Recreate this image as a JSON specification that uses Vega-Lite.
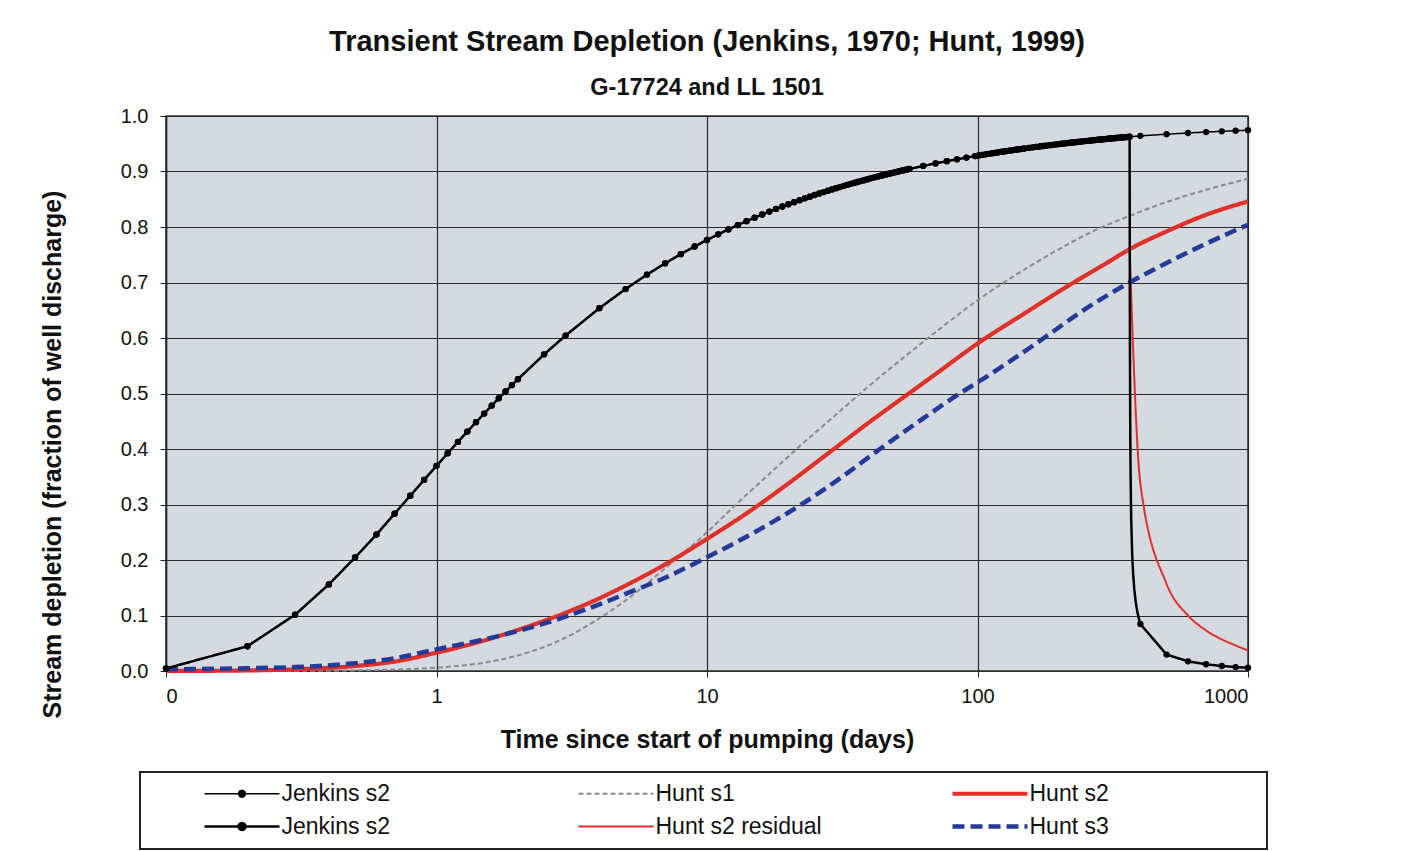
{
  "$schema": "https://vega.github.io/schema/vega-lite/v6.json",
  "width": 1082,
  "height": 555,
  "autosize": {"type": "none"},
  "padding": {"left": 166, "top": 116, "right": 160, "bottom": 180},
  "background": "#ffffff",
  "title": {
    "text": "Transient Stream Depletion (Jenkins, 1970; Hunt, 1999)",
    "subtitle": "G-17724 and LL 1501",
    "anchor": "middle",
    "font": "Liberation Sans",
    "fontSize": 29,
    "fontWeight": "bold",
    "color": "#111111",
    "subtitleFont": "Liberation Sans",
    "subtitleFontSize": 23.5,
    "subtitleFontWeight": "bold",
    "subtitleColor": "#111111",
    "subtitlePadding": 19,
    "offset": 7
  },
  "config": {
    "view": {"fill": "#d5d9e0", "stroke": "#333333", "strokeWidth": 1.5},
    "axis": {
      "labelFont": "Liberation Sans",
      "titleFont": "Liberation Sans",
      "labelColor": "#111111",
      "titleColor": "#111111",
      "titleFontWeight": "bold",
      "gridColor": "#2b2b2b",
      "gridOpacity": 1,
      "gridWidth": 1.2,
      "tickColor": "#222222",
      "domainColor": "#222222"
    }
  },
  "datasets": {
    "jen": [
      {"t":0.1,"J1":0.0045,"J2":0.0045},{"t":0.2,"J1":0.0446,"J2":0.0446},{"t":0.3,"J1":0.1014,"J2":0.1014},{"t":0.4,"J1":0.156,"J2":0.156},{"t":0.5,"J1":0.2045,"J2":0.2045},{"t":0.6,"J1":0.2459,"J2":0.2459},{"t":0.7,"J1":0.2835,"J2":0.2835},{"t":0.8,"J1":0.3158,"J2":0.3158},{"t":0.9,"J1":0.3443,"J2":0.3443},
      {"t":1,"J1":0.3696,"J2":0.3696},{"t":1.1,"J1":0.3923,"J2":0.3923},{"t":1.2,"J1":0.4128,"J2":0.4128},{"t":1.3,"J1":0.4314,"J2":0.4314},{"t":1.4,"J1":0.4483,"J2":0.4483},{"t":1.5,"J1":0.4638,"J2":0.4638},{"t":1.6,"J1":0.4782,"J2":0.4782},{"t":1.7,"J1":0.4914,"J2":0.4914},{"t":1.8,"J1":0.5036,"J2":0.5036},{"t":1.9,"J1":0.5152,"J2":0.5152},
      {"t":2,"J1":0.5258,"J2":0.5258},{"t":2.5,"J1":0.5705,"J2":0.5705},{"t":3,"J1":0.6044,"J2":0.6044},{"t":4,"J1":0.6537,"J2":0.6537},{"t":5,"J1":0.6882,"J2":0.6882},{"t":6,"J1":0.7142,"J2":0.7142},{"t":7,"J1":0.7345,"J2":0.7345},{"t":8,"J1":0.7511,"J2":0.7511},{"t":9,"J1":0.7649,"J2":0.7649},
      {"t":10,"J1":0.7766,"J2":0.7766},{"t":11,"J1":0.7868,"J2":0.7868},{"t":12,"J1":0.7957,"J2":0.7957},{"t":13,"J1":0.8035,"J2":0.8035},{"t":14,"J1":0.8105,"J2":0.8105},{"t":15,"J1":0.8168,"J2":0.8168},{"t":16,"J1":0.8225,"J2":0.8225},{"t":17,"J1":0.8278,"J2":0.8278},{"t":18,"J1":0.8325,"J2":0.8325},{"t":19,"J1":0.8369,"J2":0.8369},
      {"t":20,"J1":0.841,"J2":0.841},{"t":21,"J1":0.8448,"J2":0.8448},{"t":22,"J1":0.8483,"J2":0.8483},{"t":23,"J1":0.8516,"J2":0.8516},{"t":24,"J1":0.8547,"J2":0.8547},{"t":25,"J1":0.8576,"J2":0.8576},{"t":26,"J1":0.8603,"J2":0.8603},{"t":27,"J1":0.8629,"J2":0.8629},{"t":28,"J1":0.8654,"J2":0.8654},{"t":29,"J1":0.8677,"J2":0.8677},
      {"t":30,"J1":0.8699,"J2":0.8699},{"t":31,"J1":0.872,"J2":0.872},{"t":32,"J1":0.874,"J2":0.874},{"t":33,"J1":0.8759,"J2":0.8759},{"t":34,"J1":0.8777,"J2":0.8777},{"t":35,"J1":0.8795,"J2":0.8795},{"t":36,"J1":0.8811,"J2":0.8811},{"t":37,"J1":0.8827,"J2":0.8827},{"t":38,"J1":0.8843,"J2":0.8843},{"t":39,"J1":0.8858,"J2":0.8858},
      {"t":40,"J1":0.8872,"J2":0.8872},{"t":41,"J1":0.8886,"J2":0.8886},{"t":42,"J1":0.8899,"J2":0.8899},{"t":43,"J1":0.8912,"J2":0.8912},{"t":44,"J1":0.8924,"J2":0.8924},{"t":45,"J1":0.8936,"J2":0.8936},{"t":46,"J1":0.8948,"J2":0.8948},{"t":47,"J1":0.8959,"J2":0.8959},{"t":48,"J1":0.897,"J2":0.897},{"t":49,"J1":0.898,"J2":0.898},
      {"t":50,"J1":0.899,"J2":0.899},{"t":51,"J1":0.9,"J2":0.9},{"t":52,"J1":0.901,"J2":0.901},{"t":53,"J1":0.9019,"J2":0.9019},{"t":54,"J1":0.9028,"J2":0.9028},{"t":55,"J1":0.9037,"J2":0.9037},{"t":56,"J1":0.9046,"J2":0.9046},
      {"t":63,"J1":0.91,"J2":0.91},{"t":70,"J1":0.9146,"J2":0.9146},{"t":77,"J1":0.9186,"J2":0.9186},{"t":84,"J1":0.922,"J2":0.922},{"t":91,"J1":0.9251,"J2":0.9251},
      {"t":98,"J1":0.9278,"J2":0.9278},{"t":101,"J1":0.9289,"J2":0.9289},{"t":104,"J1":0.9299,"J2":0.9299},{"t":107,"J1":0.9309,"J2":0.9309},{"t":110,"J1":0.9318,"J2":0.9318},{"t":113,"J1":0.9327,"J2":0.9327},{"t":116,"J1":0.9336,"J2":0.9336},{"t":119,"J1":0.9344,"J2":0.9344},{"t":122,"J1":0.9353,"J2":0.9353},{"t":125,"J1":0.936,"J2":0.936},
      {"t":128,"J1":0.9368,"J2":0.9368},{"t":131,"J1":0.9375,"J2":0.9375},{"t":134,"J1":0.9382,"J2":0.9382},{"t":137,"J1":0.9389,"J2":0.9389},{"t":140,"J1":0.9396,"J2":0.9396},{"t":143,"J1":0.9402,"J2":0.9402},{"t":146,"J1":0.9408,"J2":0.9408},{"t":149,"J1":0.9414,"J2":0.9414},
      {"t":155,"J1":0.9425,"J2":0.9425},{"t":160,"J1":0.9435,"J2":0.9435},{"t":165,"J1":0.9443,"J2":0.9443},{"t":170,"J1":0.9451,"J2":0.9451},{"t":175,"J1":0.9459,"J2":0.9459},{"t":180,"J1":0.9467,"J2":0.9467},{"t":185,"J1":0.9474,"J2":0.9474},{"t":190,"J1":0.9481,"J2":0.9481},{"t":195,"J1":0.9488,"J2":0.9488},{"t":200,"J1":0.9494,"J2":0.9494},
      {"t":205,"J1":0.95,"J2":0.95},{"t":210,"J1":0.9506,"J2":0.9506},{"t":215,"J1":0.9512,"J2":0.9512},{"t":220,"J1":0.9518,"J2":0.9518},{"t":225,"J1":0.9523,"J2":0.9523},{"t":230,"J1":0.9528,"J2":0.9528},{"t":235,"J1":0.9533,"J2":0.9533},{"t":240,"J1":0.9538,"J2":0.9538},{"t":245,"J1":0.9543,"J2":0.9543},{"t":250,"J1":0.9548,"J2":0.9548},
      {"t":255,"J1":0.9552,"J2":0.9552},{"t":260,"J1":0.9556,"J2":0.9556},{"t":265,"J1":0.9561,"J2":0.9561},{"t":270,"J1":0.9565,"J2":0.9565},{"t":275,"J1":0.9569,"J2":0.9569},{"t":280,"J1":0.9572,"J2":0.9572},{"t":285,"J1":0.9576,"J2":0.9576},{"t":290,"J1":0.958,"J2":0.958},{"t":295,"J1":0.9583,"J2":0.9583},{"t":300,"J1":0.9587,"J2":0.9587},
      {"t":305,"J1":0.959,"J2":0.959},{"t":310,"J1":0.9594,"J2":0.9594},{"t":315,"J1":0.9597,"J2":0.9597},{"t":320,"J1":0.96,"J2":0.96},{"t":325,"J1":0.9603,"J2":0.9603},{"t":330,"J1":0.9606,"J2":0.9606},{"t":335,"J1":0.9609,"J2":0.9609},{"t":340,"J1":0.9612,"J2":0.9612},{"t":345,"J1":0.9615,"J2":0.9615},{"t":350,"J1":0.9618,"J2":0.9618},
      {"t":355,"J1":0.962,"J2":0.962},{"t":360,"J1":0.9623,"J2":0.9623},{"t":365,"J1":0.9626,"J2":0.9626},
      {"t":366,"J1":0.9627,"J2":0.593},{"t":367,"J1":0.9627,"J2":0.4369},{"t":368,"J1":0.9628,"J2":0.3583},{"t":370,"J1":0.9629,"J2":0.2746},{"t":373,"J1":0.963,"J2":0.2118},{"t":376,"J1":0.9631,"J2":0.1763},{"t":380,"J1":0.9633,"J2":0.1465},{"t":385,"J1":0.9635,"J2":0.1225},{"t":390,"J1":0.9638,"J2":0.1062},{"t":395,"J1":0.964,"J2":0.0941},
      {"t":400,"J1":0.9642,"J2":0.0847},{"t":500,"J1":0.9672,"J2":0.0296},{"t":600,"J1":0.9694,"J2":0.0175},{"t":700,"J1":0.9711,"J2":0.0121},{"t":800,"J1":0.9724,"J2":0.009},{"t":900,"J1":0.9735,"J2":0.0071},{"t":1000,"J1":0.9745,"J2":0.0058}
    ],
    "hunt": [
      {"s":"H1","t":0.1,"v":0},{"s":"H1","t":0.3,"v":0.0002},{"s":"H1","t":0.5,"v":0.001},{"s":"H1","t":0.7,"v":0.0025},{"s":"H1","t":1,"v":0.006},{"s":"H1","t":1.5,"v":0.015},{"s":"H1","t":2,"v":0.028},{"s":"H1","t":3,"v":0.06},{"s":"H1","t":4,"v":0.095},{"s":"H1","t":5,"v":0.127},{"s":"H1","t":7,"v":0.185},{"s":"H1","t":10,"v":0.25},{"s":"H1","t":13,"v":0.303},{"s":"H1","t":17,"v":0.355},{"s":"H1","t":22,"v":0.405},{"s":"H1","t":30,"v":0.462},{"s":"H1","t":40,"v":0.515},{"s":"H1","t":55,"v":0.57},{"s":"H1","t":75,"v":0.622},{"s":"H1","t":100,"v":0.668},{"s":"H1","t":140,"v":0.715},{"s":"H1","t":200,"v":0.76},{"s":"H1","t":280,"v":0.797},{"s":"H1","t":365,"v":0.82},{"s":"H1","t":500,"v":0.845},{"s":"H1","t":700,"v":0.867},{"s":"H1","t":1000,"v":0.887},
      {"s":"H2","t":0.1,"v":0},{"s":"H2","t":0.2,"v":0.001},{"s":"H2","t":0.3,"v":0.003},{"s":"H2","t":0.5,"v":0.009},{"s":"H2","t":0.7,"v":0.017},{"s":"H2","t":1,"v":0.033},{"s":"H2","t":1.5,"v":0.055},{"s":"H2","t":2,"v":0.074},{"s":"H2","t":3,"v":0.105},{"s":"H2","t":4,"v":0.131},{"s":"H2","t":5,"v":0.154},{"s":"H2","t":7,"v":0.192},{"s":"H2","t":10,"v":0.238},{"s":"H2","t":15,"v":0.294},{"s":"H2","t":20,"v":0.338},{"s":"H2","t":30,"v":0.403},{"s":"H2","t":40,"v":0.449},{"s":"H2","t":55,"v":0.498},{"s":"H2","t":70,"v":0.535},{"s":"H2","t":100,"v":0.59},{"s":"H2","t":150,"v":0.645},{"s":"H2","t":218,"v":0.695},{"s":"H2","t":300,"v":0.735},{"s":"H2","t":365,"v":0.76},{"s":"H2","t":500,"v":0.792},{"s":"H2","t":700,"v":0.822},{"s":"H2","t":1000,"v":0.846},
      {"s":"H2r","t":365,"v":0.76},{"s":"H2r","t":400,"v":0.338},{"s":"H2r","t":500,"v":0.157},{"s":"H2r","t":600,"v":0.1},{"s":"H2r","t":700,"v":0.073},{"s":"H2r","t":800,"v":0.057},{"s":"H2r","t":900,"v":0.046},{"s":"H2r","t":1000,"v":0.037},
      {"s":"H3","t":0.1,"v":0.003},{"s":"H3","t":0.2,"v":0.005},{"s":"H3","t":0.3,"v":0.007},{"s":"H3","t":0.5,"v":0.014},{"s":"H3","t":0.7,"v":0.023},{"s":"H3","t":1,"v":0.039},{"s":"H3","t":1.5,"v":0.057},{"s":"H3","t":2,"v":0.072},{"s":"H3","t":3,"v":0.098},{"s":"H3","t":4,"v":0.12},{"s":"H3","t":5,"v":0.139},{"s":"H3","t":7,"v":0.168},{"s":"H3","t":10,"v":0.205},{"s":"H3","t":15,"v":0.25},{"s":"H3","t":22,"v":0.298},{"s":"H3","t":30,"v":0.342},{"s":"H3","t":43,"v":0.398},{"s":"H3","t":60,"v":0.448},{"s":"H3","t":86,"v":0.5},{"s":"H3","t":100,"v":0.52},{"s":"H3","t":130,"v":0.556},{"s":"H3","t":176,"v":0.6},{"s":"H3","t":250,"v":0.652},{"s":"H3","t":365,"v":0.7},{"s":"H3","t":500,"v":0.735},{"s":"H3","t":700,"v":0.77},{"s":"H3","t":1000,"v":0.804}
    ]
  },
  "encoding": {
    "x": {
      "field": "t",
      "type": "quantitative",
      "scale": {"type": "log", "domain": [0.1, 1000], "nice": false},
      "axis": {
        "values": [0.1, 1, 10, 100, 1000],
        "labelExpr": "datum.value < 0.5 ? '0' : format(datum.value, 'd')",
        "title": "Time since start of pumping (days)",
        "labelFontSize": 20,
        "titleFontSize": 25,
        "tickSize": 6,
        "labelPadding": 9,
        "titlePadding": 21,
        "grid": true,
        "domain": false
      }
    },
    "y": {
      "field": "v",
      "type": "quantitative",
      "scale": {"domain": [0, 1], "nice": false},
      "axis": {
        "values": [0, 0.1, 0.2, 0.3, 0.4, 0.5, 0.6, 0.7, 0.8, 0.9, 1],
        "format": ".1f",
        "title": "Stream depletion (fraction of well discharge)",
        "labelFontSize": 20,
        "titleFontSize": 25,
        "tickSize": 6,
        "labelPadding": 12,
        "titleX": -114,
        "titleY": 338,
        "titleBaseline": "middle",
        "titleAlign": "center",
        "grid": true,
        "domain": true,
        "domainWidth": 1.5
      }
    }
  },
  "layer": [
    {
      "data": {"name": "hunt"},
      "mark": {"type": "line", "interpolate": "monotone", "strokeCap": "butt"},
      "encoding": {
        "color": {
          "field": "s",
          "type": "nominal",
          "scale": {"domain": ["J1", "H1", "H2", "J2", "H2r", "H3"], "range": ["#000000", "#8a8a8a", "#e0302a", "#000000", "#e0302a", "#233a96"]},
          "legend": {
            "orient": "none",
            "legendX": -26,
            "legendY": 656,
            "direction": "horizontal",
            "columns": 3,
            "gridAlign": "all",
            "columnPadding": 15,
            "rowPadding": 9,
            "padding": 10,
            "title": null,
            "symbolType": "stroke",
            "symbolSize": 100,
            "symbolOffset": 80.5,
            "labelOffset": 28,
            "labelFont": "Liberation Sans",
            "labelFontSize": 23,
            "labelColor": "#111111",
            "labelLimit": 600,
            "fillColor": "#ffffff",
            "strokeColor": "#222222",
            "labelExpr": "datum.label === 'H1' ? 'Hunt s1' : datum.label === 'H2' ? 'Hunt s2' : datum.label === 'H2r' ? 'Hunt s2 residual' : datum.label === 'H3' ? 'Hunt s3' : 'Jenkins s2'",
            "encode": {
              "legend": {"update": {"strokeWidth": {"value": 2}}},
              "symbols": {
                "update": {
                  "shape": {"signal": "(datum.value === 'J1' || datum.value === 'J2') ? 'M-7.5,0H7.5M0.68,0A0.68,0.68,0,1,1,-0.68,0A0.68,0.68,0,1,1,0.68,0Z' : datum.value === 'H3' ? 'M-7.5,0H7.5M51.5,0' : 'M-7.5,0H7.5'"},
                  "fill": {"signal": "(datum.value === 'J1' || datum.value === 'J2') ? '#000000' : 'transparent'"},
                  "strokeWidth": {"signal": "datum.value === 'J1' ? 1.5 : datum.value === 'J2' ? 2.5 : datum.value === 'H1' ? 2 : datum.value === 'H2r' ? 2 : 4.5"},
                  "strokeDash": {"signal": "datum.value === 'H1' ? [3, 2] : datum.value === 'H3' ? [11, 5] : [1, 0]"}
                }
              }
            }
          }
        },
        "strokeDash": {
          "field": "s",
          "type": "nominal",
          "scale": {"type": "ordinal", "domain": ["J1", "H1", "H2", "J2", "H2r", "H3"], "range": [[1, 0], [5, 3], [1, 0], [1, 0], [1, 0], [12, 6]]},
          "legend": null
        },
        "strokeWidth": {
          "field": "s",
          "type": "nominal",
          "scale": {"type": "ordinal", "domain": ["J1", "H1", "H2", "J2", "H2r", "H3"], "range": [1.5, 2, 4.2, 2.5, 2, 4.5]},
          "legend": null
        }
      }
    },
    {
      "data": {"name": "jen"},
      "transform": [{"fold": ["J1", "J2"], "as": ["s", "v"]}],
      "mark": {"type": "line"},
      "encoding": {
        "color": {"field": "s", "type": "nominal", "scale": {"domain": ["J1", "H1", "H2", "J2", "H2r", "H3"], "range": ["#000000", "#8a8a8a", "#e0302a", "#000000", "#e0302a", "#233a96"]}},
        "strokeDash": {
          "field": "s",
          "type": "nominal",
          "scale": {"type": "ordinal", "domain": ["J1", "H1", "H2", "J2", "H2r", "H3"], "range": [[1, 0], [5, 3], [1, 0], [1, 0], [1, 0], [12, 6]]},
          "legend": null
        },
        "strokeWidth": {
          "field": "s",
          "type": "nominal",
          "scale": {"type": "ordinal", "domain": ["J1", "H1", "H2", "J2", "H2r", "H3"], "range": [1.5, 2, 4.2, 2.5, 2, 4.5]},
          "legend": null
        }
      }
    },
    {
      "data": {"name": "jen"},
      "transform": [
        {"fold": ["J1", "J2"], "as": ["s", "v"]},
        {"filter": "datum.t <= 365 || datum.t >= 400"}
      ],
      "mark": {"type": "circle", "size": 40, "color": "#000000", "opacity": 1}
    }
  ]
}
